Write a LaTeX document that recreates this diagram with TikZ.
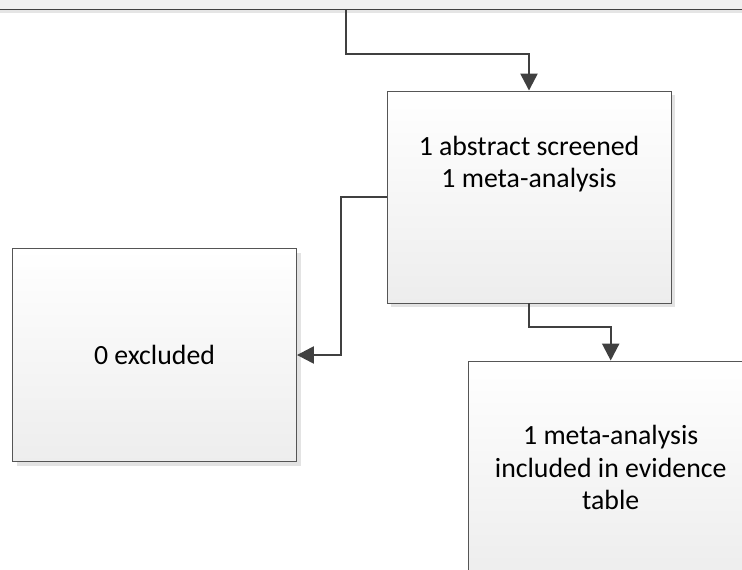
\documentclass[tikz,border=0pt]{standalone}
\usepackage{fontspec}
\setmainfont{Carlito}
\usetikzlibrary{shadows,arrows.meta}
\definecolor{boxline}{HTML}{555555}
\definecolor{connc}{HTML}{404040}
\definecolor{topfill}{HTML}{F0F0F0}
\begin{document}
\begin{tikzpicture}[x=1pt,y=-1pt,
  boxshape/.style={draw=boxline, line width=0.9pt, rectangle,
    top color=white, bottom color=black!7,
    minimum width=284pt, minimum height=212pt, inner sep=0pt,
    drop shadow={shadow xshift=4pt, shadow yshift=-4pt, fill=black!11, opacity=1}},
  txt/.style={font=\fontsize{27.8}{32.5}\selectfont, align=center, text=black, inner sep=0pt},
  conn/.style={draw=connc, line width=2.4pt},
  arr/.style={conn, -{Triangle[length=17pt,width=17pt]}}
]
\useasboundingbox (0,0) rectangle (742,570);
\clip (0,0) rectangle (742,570);
\fill[white] (0,0) rectangle (742,570);

% top box (only its lower edge is visible)
\node[draw=connc, line width=1pt, fill=topfill, rectangle, minimum width=800pt, minimum height=110pt,
  drop shadow={shadow xshift=0pt, shadow yshift=-3pt, fill=black!10, opacity=1}] (top) at (371,-45.5) {};

% boxes
\node[boxshape] (mid) at (529,197) {};
\node[txt] (midtxt) at ([yshift=33pt]mid.center) {1 abstract screened\\1 meta-analysis};
\node[boxshape, minimum height=213pt, txt] (excl) at (154.5,355) {0 excluded};
\node[boxshape, minimum height=213pt, minimum width=285pt, txt] (incl) at (610.7,467.5)
  {1 meta-analysis\\included in evidence\\table};

% connectors
\coordinate (j1) at (346,54);
\coordinate (k) at (341,0);
\coordinate (j3) at (570,326.7);
\draw[arr] (top.south -| j1) -- (j1) -| (mid.north);
\draw[arr] (mid.west) -- (mid.west -| k) -- (excl.east -| k) -- (excl.east);
\draw[arr] (mid.south) |- (j3) -| (incl.north);
\end{tikzpicture}
\end{document}
